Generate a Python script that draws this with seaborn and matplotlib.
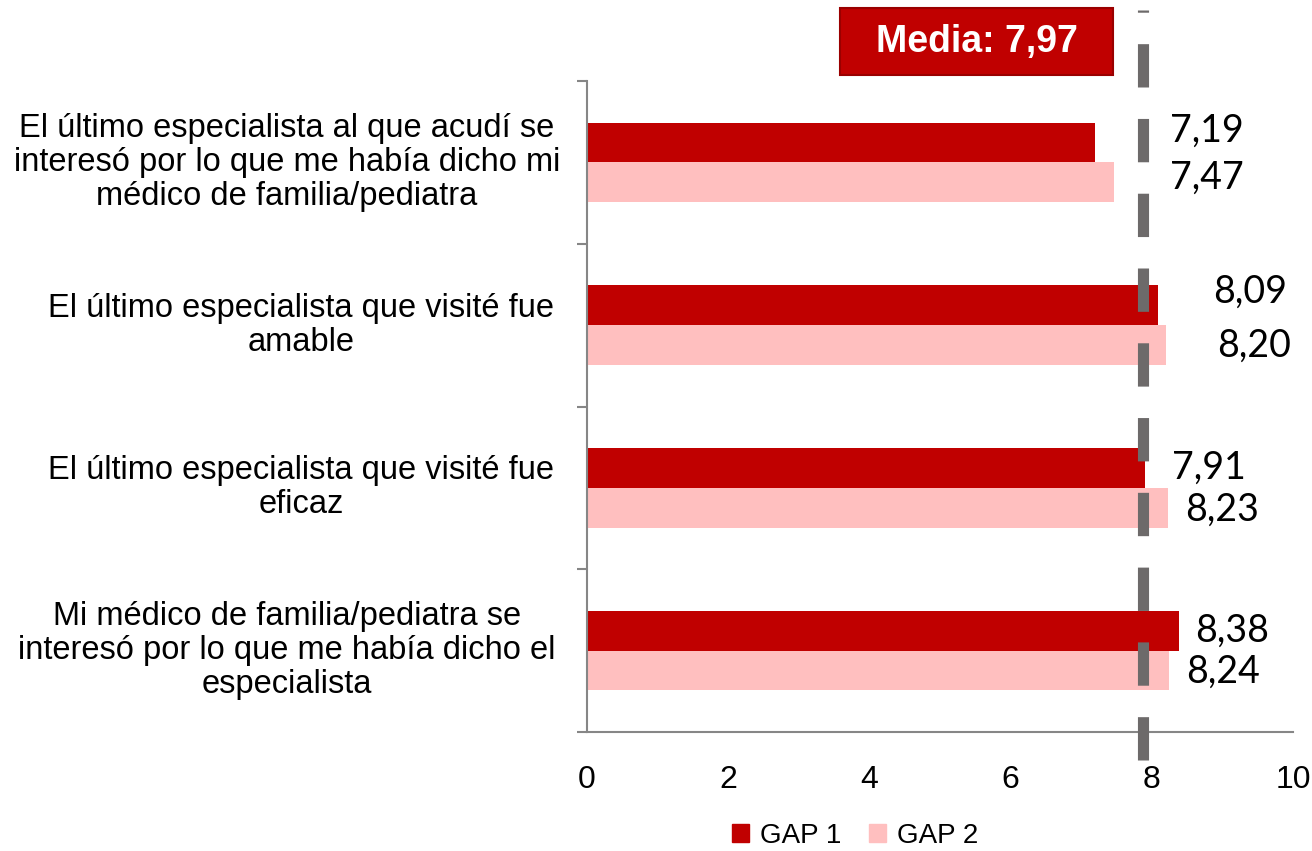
import matplotlib
matplotlib.use("Agg")
import matplotlib.pyplot as plt
import matplotlib.patches as mpatches
import matplotlib.transforms as mtransforms
import seaborn as sns
import pandas as pd

# ---- data ----
categories = [
    "El último especialista al que acudí se\ninteresó por lo que me había dicho mi\nmédico de familia/pediatra",
    "El último especialista que visité fue\namable",
    "El último especialista que visité fue\neficaz",
    "Mi médico de familia/pediatra se\ninteresó por lo que me había dicho el\nespecialista",
]
series = ["GAP 1", "GAP 2"]
gap1 = [7.19, 8.09, 7.91, 8.38]
gap2 = [7.47, 8.20, 8.23, 8.24]
mean_line = 7.87
mean_label = "Media: 7,97"
xticks = [0, 2, 4, 6, 8, 10]

# label offsets (pixels) from bar end, per series, per category
label_dx = {"GAP 1": [75, 55, 27, 16], "GAP 2": [56, 51, 17, 17]}
label_dy = {"GAP 1": [12, 13, 0, 0], "GAP 2": [5, -1, -2, -1]}

colors = ["#C00000", "#FFBFBF"]
line_color = "#6D6A6A"
spine_color = "#868686"

sns.set_style("white")
plt.rcParams["font.family"] = ["Liberation Sans", "DejaVu Sans"]
plt.rcParams["text.color"] = "black"
plt.rcParams["xtick.color"] = "black"

df = pd.DataFrame({
    "categoria": categories * 2,
    "serie": [series[0]] * len(categories) + [series[1]] * len(categories),
    "valor": gap1 + gap2,
})

fig = plt.figure(figsize=(13.12, 8.51), dpi=100)
ax = fig.add_axes([587 / 1312, 1 - 732 / 851, 706 / 1312, 651 / 851])

sns.barplot(data=df, y="categoria", x="valor", hue="serie", orient="h",
            palette=colors, width=0.49, saturation=1, linewidth=0,
            hue_order=series, order=categories, ax=ax, legend=False,
            errorbar=None)

ax.set_xlim(0, 10)
ax.set_ylim(len(categories) - 0.5, -0.5)
ax.set_xlabel("")
ax.set_ylabel("")
ax.set_xticks(xticks)
ax.set_xticklabels([str(t) for t in xticks], fontsize=23)
ax.set_yticks([i - 0.5 for i in range(len(categories) + 1)])
ax.set_yticklabels([])

for s in ["top", "right"]:
    ax.spines[s].set_visible(False)
for s in ["left", "bottom"]:
    ax.spines[s].set_color(spine_color)
    ax.spines[s].set_linewidth(1.5)
ax.tick_params(axis="x", direction="out", length=7, width=1.5, color=spine_color,
               pad=17, labelcolor="black")
ax.tick_params(axis="y", direction="out", length=7, width=1.5, color=spine_color,
               left=True)

# category labels
trans = mtransforms.blended_transform_factory(ax.transAxes, ax.transData)
centers = [-0.425, -0.405, -0.405, -0.425]
for i, cat in enumerate(categories):
    ax.text(centers[i], i, cat, transform=trans, ha="center", va="center",
            multialignment="center", fontsize=23.5, linespacing=1.13,
            color="black")

# value labels
for cont, sname in zip(ax.containers, series):
    vals = gap1 if sname == "GAP 1" else gap2
    for j, (bar, v) in enumerate(zip(cont, vals)):
        ax.annotate(f"{v:.2f}".replace(".", ","),
                    xy=(bar.get_width(), bar.get_y() + bar.get_height() / 2),
                    xytext=(label_dx[sname][j], label_dy[sname][j]),
                    textcoords="offset pixels", ha="left", va="center",
                    fontsize=27, family=["Lato", "DejaVu Sans"], color="black")

# mean dashed line
ax.axvline(mean_line, ymin=(732 - 760) / 651, ymax=(732 - 10) / 651,
           color=line_color, linewidth=8, linestyle=(0, (3.9, 2.83)),
           solid_capstyle="butt", dash_capstyle="butt", clip_on=False, zorder=5)

# Media box
rect = mpatches.Rectangle((840 / 1312, 1 - 75 / 851), 273 / 1312, 67 / 851,
                          transform=fig.transFigure, facecolor="#C00000",
                          edgecolor="#9A0000", linewidth=1.5)
fig.patches.append(rect)
fig.text(976.5 / 1312, 1 - 42 / 851, mean_label, ha="center", va="center",
         color="white", fontsize=27, fontweight="bold")

# legend
handles = [mpatches.Patch(color=c, label=s) for c, s in zip(colors, series)]
leg = fig.legend(handles=handles, loc="center", bbox_to_anchor=(855 / 1312, 1 - 836 / 851),
                 ncol=2, frameon=False, fontsize=20, handlelength=0.6, handleheight=0.6,
                 handletextpad=0.4, columnspacing=1.0)
for t in leg.get_texts():
    t.set_color("black")

fig.savefig("out.png", dpi=100)
